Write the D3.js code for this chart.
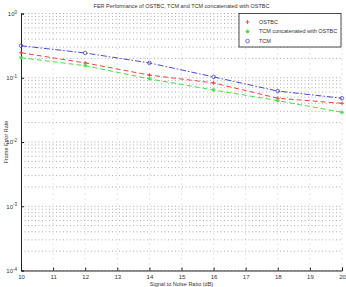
<!DOCTYPE html>
<html>
<head>
<meta charset="utf-8">
<script src="https://cdn.jsdelivr.net/npm/d3@7"></script>
<style>
  body { margin: 0; background: #fff; }
  text { font-family: "Liberation Sans", Arial, sans-serif; fill: #333; }
</style>
</head>
<body>
<div id="chart"></div>
<script>
// SNR points (dB)
const snr = [10, 12, 14, 16, 18, 20];
// frame error rates
const ostbc = [0.245, 0.170, 0.110, 0.083, 0.048, 0.040];
const tcmOstbc = [0.205, 0.154, 0.096, 0.0645, 0.044, 0.029];
const tcm = [0.315, 0.243, 0.170, 0.103, 0.062, 0.048];

const xTicks = d3.range(10, 21);
const yTicks = [1e-4, 1e-3, 1e-2, 1e-1, 1];

const series = [
  { name: 'OSTBC', values: ostbc, color: '#e04848', dash: '5,3', marker: 'plus' },
  { name: 'TCM concatenated with OSTBC', values: tcmOstbc, color: '#44e044', dash: '5,3', marker: 'star' },
  { name: 'TCM', values: tcm, color: '#4a4ad0', dash: '6,2,1.5,2', marker: 'circle' }
];

const width = 346, height = 287;
const margin = { left: 21, right: 4, top: 13.5, bottom: 16.5 };
const innerW = width - margin.left - margin.right;
const innerH = height - margin.top - margin.bottom;

const svg = d3.select('#chart').append('svg')
  .attr('width', width)
  .attr('height', height);

const g = svg.append('g')
  .attr('transform', `translate(${margin.left},${margin.top})`);

const x = d3.scaleLinear().domain([10, 20]).range([0, innerW]);
const y = d3.scaleLog().domain([1e-4, 1]).range([innerH, 0]);

// grid: major + minor log lines
const minor = [];
for (let e = -4; e < 0; e++) {
  for (let k = 1; k < 10; k++) minor.push(k * Math.pow(10, e));
}
minor.push(1);

g.append('g').selectAll('line')
  .data(minor)
  .join('line')
  .attr('x1', 0).attr('x2', innerW)
  .attr('y1', d => y(d)).attr('y2', d => y(d))
  .attr('stroke', '#888')
  .attr('stroke-width', 0.7)
  .attr('stroke-dasharray', '1,2.5');

g.append('g').selectAll('line')
  .data(xTicks.slice(1))
  .join('line')
  .attr('x1', d => x(d)).attr('x2', d => x(d))
  .attr('y1', 0).attr('y2', innerH)
  .attr('stroke', '#aaa')
  .attr('stroke-width', 0.6)
  .attr('stroke-dasharray', '1,4');

// axes
const xAxis = g.append('g')
  .attr('transform', `translate(0,${innerH})`)
  .call(d3.axisBottom(x).tickValues(xTicks).tickSize(-3).tickPadding(4).tickFormat(d3.format('d')));
xAxis.select('.domain').attr('stroke', '#222');
xAxis.selectAll('.tick line').attr('stroke', '#222');
xAxis.selectAll('text').style('font-size', '6px');

const yAxis = g.append('g')
  .call(d3.axisLeft(y).tickValues(yTicks).tickSize(-3).tickPadding(3).tickFormat(() => ''));
yAxis.select('.domain').attr('stroke', '#222');
yAxis.selectAll('.tick line').attr('stroke', '#222');
yAxis.selectAll('.tick').append('text')
  .attr('x', -4)
  .attr('dy', '0.3em')
  .attr('text-anchor', 'end')
  .style('font-size', '6px')
  .each(function(d) {
    const t = d3.select(this);
    t.append('tspan').text('10');
    t.append('tspan').attr('dy', '-0.5em').style('font-size', '4.5px').text(Math.round(Math.log10(d)));
  });

// lines
const line = d3.line()
  .x((d, i) => x(snr[i]))
  .y(d => y(d));

function drawMarker(sel, type, color) {
  if (type === 'plus') {
    sel.append('path').attr('d', 'M-2,0H2M0,-2V2')
      .attr('stroke', color).attr('stroke-width', 0.9).attr('fill', 'none');
  } else if (type === 'star') {
    sel.append('path').attr('d', 'M-2,0H2M0,-2V2M-1.4,-1.4L1.4,1.4M-1.4,1.4L1.4,-1.4')
      .attr('stroke', color).attr('stroke-width', 0.9).attr('fill', 'none');
  } else {
    sel.append('circle').attr('r', 1.8)
      .attr('stroke', color).attr('stroke-width', 0.8).attr('fill', 'none');
  }
}

series.forEach(s => {
  g.append('path')
    .datum(s.values)
    .attr('d', line)
    .attr('fill', 'none')
    .attr('stroke', s.color)
    .attr('stroke-width', 1)
    .attr('stroke-dasharray', s.dash);

  g.append('g').selectAll('g')
    .data(s.values)
    .join('g')
    .attr('transform', (d, i) => `translate(${x(snr[i])},${y(d)})`)
    .each(function() { drawMarker(d3.select(this), s.marker, s.color); });
});

// legend
const legend = g.append('g').attr('transform', `translate(${218},0)`);
legend.append('rect')
  .attr('width', 102).attr('height', 33.5)
  .attr('fill', '#fff')
  .attr('stroke', '#222')
  .attr('stroke-width', 0.8);

series.forEach((s, i) => {
  const row = legend.append('g').attr('transform', `translate(0,${8.5 + i * 9.5})`);
  const m = row.append('g').attr('transform', 'translate(8.5,0)');
  drawMarker(m, s.marker, s.color);
  row.append('text')
    .attr('x', 20).attr('dy', '0.33em')
    .style('font-size', '5.5px')
    .text(s.name);
});

// title and labels
svg.append('text')
  .attr('x', margin.left + innerW / 2)
  .attr('y', 8)
  .attr('text-anchor', 'middle')
  .style('font-size', '5.5px')
  .text('FER Performance of OSTBC, TCM and TCM concatenated with OSTBC');

svg.append('text')
  .attr('x', margin.left + innerW / 2)
  .attr('y', 286)
  .attr('text-anchor', 'middle')
  .style('font-size', '5.5px')
  .text('Signal to Noise Ratio (dB)');

svg.append('text')
  .attr('transform', `translate(8,${margin.top + innerH / 2}) rotate(-90)`)
  .attr('text-anchor', 'middle')
  .style('font-size', '5.5px')
  .text('Frame Error Rate');
</script>
</body>
</html>
